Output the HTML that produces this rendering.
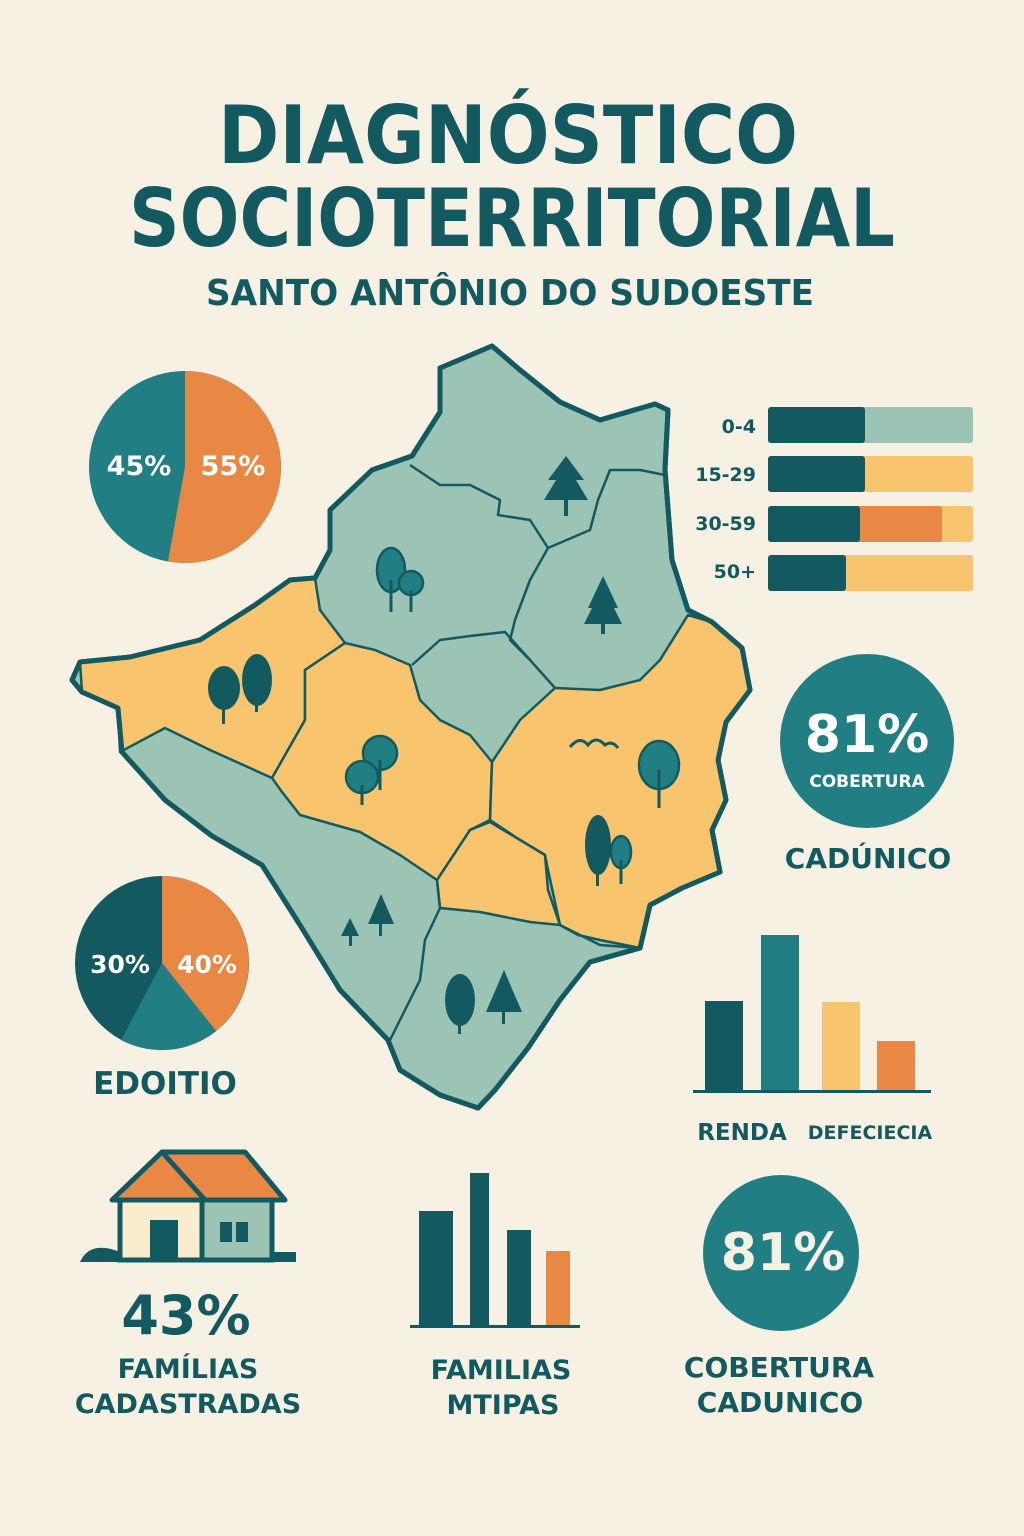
<!DOCTYPE html>
<html><head><meta charset="utf-8"><style>
html,body{margin:0;padding:0;background:#f7f1e4}
svg{display:block}
text{font-family:"DejaVu Sans","Liberation Sans",sans-serif;font-weight:bold}
</style></head><body>
<svg width="1024" height="1536" viewBox="0 0 1024 1536" xmlns="http://www.w3.org/2000/svg">
<rect width="1024" height="1536" fill="#f7f1e4"/>
<text x="508" y="163" text-anchor="middle" font-size="80" fill="#135a60" textLength="580" lengthAdjust="spacingAndGlyphs">DIAGNÓSTICO</text>
<text x="512" y="246" text-anchor="middle" font-size="80" fill="#135a60" textLength="766" lengthAdjust="spacingAndGlyphs">SOCIOTERRITORIAL</text>
<text x="510" y="305" text-anchor="middle" font-size="36" fill="#135a60" textLength="608" lengthAdjust="spacingAndGlyphs">SANTO ANTÔNIO DO SUDOESTE</text>

<!-- map -->
<g stroke="#135a60" stroke-linejoin="round">
<path d="M440,368 L492,346 L520,370 L560,402 L600,420 L655,404 L668,410 L665,470 L672,560 L688,610 L712,622 L742,648 L750,690 L726,722 L718,760 L726,800 L712,830 L720,872 L682,888 L650,905 L640,948 L590,962 L560,1000 L528,1048 L495,1090 L478,1108 L440,1095 L400,1070 L388,1040 L340,990 L300,925 L262,865 L212,836 L165,800 L122,752 L118,708 L82,692 L72,680 L80,662 L130,657 L200,640 L255,605 L290,580 L315,578 L330,550 L330,510 L372,470 L412,456 L440,412 Z" fill="#9bc4b4" stroke-width="5"/>
<g fill="#f9c46e" stroke-width="2.5">
<path d="M82,692 L80,662 L130,657 L200,640 L255,605 L290,580 L315,578 L320,610 L345,643 L305,670 L305,720 L272,778 L250,768 L210,750 L165,728 L120,752 L118,708 Z"/>
<path d="M345,643 L375,650 L410,665 L420,700 L440,720 L470,735 L492,762 L490,820 L470,830 L445,870 L437,880 L400,855 L360,832 L300,815 L282,792 L272,778 L305,720 L305,670 Z"/>
<path d="M492,762 L520,720 L555,688 L600,690 L640,680 L660,660 L688,615 L712,622 L742,648 L750,690 L726,722 L718,760 L726,800 L712,830 L720,872 L682,888 L650,905 L640,948 L600,940 L578,935 L560,925 L548,870 L545,855 L520,840 L490,820 Z"/>
<path d="M490,822 L520,840 L545,855 L548,890 L560,925 L530,922 L480,912 L440,908 L437,880 L470,830 Z"/>
</g>
<g fill="none" stroke-width="2.5">
<path d="M410,465 L440,485 L470,485 L500,500 L498,515 L530,520 L548,548 L590,530 L598,500 L610,470 L640,470 L665,475"/>
<path d="M548,548 L530,580 L515,620 L510,640 L530,660 L555,688"/>
<path d="M412,665 L440,640 L470,636 L505,632 L530,660"/>
<path d="M437,880 L440,908 L425,940 L420,980 L400,1020 L390,1040"/>
<path d="M560,925 L580,935 L600,945 L640,948"/>
</g>
<path d="M440,368 L492,346 L520,370 L560,402 L600,420 L655,404 L668,410 L665,470 L672,560 L688,610 L712,622 L742,648 L750,690 L726,722 L718,760 L726,800 L712,830 L720,872 L682,888 L650,905 L640,948 L590,962 L560,1000 L528,1048 L495,1090 L478,1108 L440,1095 L400,1070 L388,1040 L340,990 L300,925 L262,865 L212,836 L165,800 L122,752 L118,708 L82,692 L72,680 L80,662 L130,657 L200,640 L255,605 L290,580 L315,578 L330,550 L330,510 L372,470 L412,456 L440,412 Z" fill="none" stroke-width="5"/>
</g>
<!-- trees -->
<g fill="#135a60">
<polygon points="566,456 548,480 556,480 544,500 588,500 576,480 584,480"/><rect x="564" y="498" width="4" height="18"/>
<polygon points="603,576 588,608 592,608 584,624 622,624 614,608 618,608"/><rect x="601" y="620" width="4" height="14"/>
<ellipse cx="224" cy="688" rx="16" ry="22"/><rect x="222" y="700" width="3" height="24"/>
<ellipse cx="257" cy="680" rx="15" ry="26"/><rect x="255" y="700" width="3" height="12"/>
<polygon points="381,894 368,924 394,924"/><rect x="379" y="920" width="3" height="16"/>
<polygon points="350,918 341,936 359,936"/><rect x="349" y="934" width="3" height="12"/>
<ellipse cx="460" cy="1000" rx="15" ry="26"/><rect x="458" y="1010" width="3" height="24"/>
<polygon points="504,970 486,1012 522,1012"/><rect x="502" y="1010" width="3" height="14"/>
<ellipse cx="598" cy="845" rx="13" ry="30"/><rect x="596" y="860" width="3" height="26"/>
</g>
<g fill="#217f83" stroke="#135a60" stroke-width="2.5">
<ellipse cx="391" cy="570" rx="14" ry="22"/><circle cx="411" cy="583" r="12"/>
<circle cx="380" cy="753" r="17"/><circle cx="362" cy="777" r="16"/>
<ellipse cx="659" cy="765" rx="20" ry="24"/>
<ellipse cx="621" cy="852" rx="10" ry="16"/>
</g>
<g stroke="#135a60" stroke-width="3" fill="none"><path d="M391,580 V612 M411,590 V612 M380,760 V790 M362,785 V805 M659,770 V808 M621,860 V884"/>
<path d="M570,747 Q580,735 588,745 Q596,735 605,745 Q612,740 618,748"/></g>

<!-- pie 1 -->
<circle cx="185" cy="467" r="96" fill="#217f83"/>
<path d="M185,467 L185,371 A96,96 0 1 1 168,561.5 Z" fill="#e98845"/>
<text x="139" y="475" text-anchor="middle" font-size="27" fill="#fff">45%</text>
<text x="233" y="475" text-anchor="middle" font-size="27" fill="#fff">55%</text>

<!-- pie 2 -->
<circle cx="162" cy="963" r="87" fill="#135a60"/>
<path d="M162,963 L162,876 A87,87 0 0 1 216,1031 Z" fill="#e98845"/>
<path d="M162,963 L216,1031 A87,87 0 0 1 121,1040 Z" fill="#217f83"/>
<text x="120" y="973" text-anchor="middle" font-size="25" fill="#fff">30%</text>
<text x="207" y="973" text-anchor="middle" font-size="25" fill="#fff">40%</text>
<text x="165" y="1094" text-anchor="middle" font-size="31" fill="#135a60">EDOITIO</text>

<!-- age bars -->
<g font-size="19" fill="#135a60" text-anchor="end">
<text x="756" y="433">0-4</text><text x="756" y="481">15-29</text><text x="756" y="530">30-59</text><text x="756" y="578">50+</text></g>
<rect x="768" y="407" width="205" height="36" rx="3" fill="#9bc4b4"/><rect x="768" y="407" width="97" height="36" rx="3" fill="#135a60"/>
<rect x="768" y="456" width="205" height="36" rx="3" fill="#f9c46e"/><rect x="768" y="456" width="97" height="36" rx="3" fill="#135a60"/>
<rect x="768" y="506" width="205" height="36" rx="3" fill="#f9c46e"/><rect x="768" y="506" width="174" height="36" rx="3" fill="#e98845"/><rect x="768" y="506" width="92" height="36" rx="3" fill="#135a60"/>
<rect x="768" y="555" width="205" height="36" rx="3" fill="#f9c46e"/><rect x="768" y="555" width="78" height="36" rx="3" fill="#135a60"/>

<!-- circle 1 -->
<circle cx="867" cy="741" r="87" fill="#217f83"/>
<text x="867" y="752" text-anchor="middle" font-size="52" fill="#fff">81%</text>
<text x="867" y="787" text-anchor="middle" font-size="17" fill="#fff">COBERTURA</text>
<text x="868" y="868" text-anchor="middle" font-size="28" fill="#135a60">CADÚNICO</text>

<!-- bar chart right -->
<rect x="705" y="1001" width="38" height="91" fill="#135a60"/>
<rect x="761" y="935" width="38" height="157" fill="#217f83"/>
<rect x="822" y="1002" width="38" height="90" fill="#f9c46e"/>
<rect x="877" y="1041" width="38" height="51" fill="#e98845"/>
<rect x="693" y="1090" width="238" height="3" fill="#135a60"/>
<text x="742" y="1140" text-anchor="middle" font-size="23" fill="#135a60">RENDA</text>
<text x="870" y="1139" text-anchor="middle" font-size="19" fill="#135a60">DEFECIECIA</text>

<!-- house -->
<path d="M80,1262 Q90,1240 120,1252 L296,1252 L296,1262 Z" fill="#135a60"/>
<rect x="120" y="1196" width="82" height="64" fill="#faedcf" stroke="#135a60" stroke-width="5"/>
<rect x="202" y="1196" width="70" height="64" fill="#9bc4b4" stroke="#135a60" stroke-width="5"/>
<polygon points="112,1200 162,1152 245,1152 285,1200" fill="#e98845" stroke="#135a60" stroke-width="5" stroke-linejoin="round"/>
<path d="M162,1152 L205,1200" stroke="#135a60" stroke-width="5"/>
<rect x="150" y="1220" width="28" height="40" fill="#135a60"/>
<rect x="220" y="1222" width="12" height="20" fill="#135a60"/><rect x="236" y="1222" width="12" height="20" fill="#135a60"/>
<text x="186" y="1334" text-anchor="middle" font-size="54" fill="#135a60">43%</text>
<text x="188" y="1378" text-anchor="middle" font-size="27" fill="#135a60">FAMÍLIAS</text>
<text x="188" y="1413" text-anchor="middle" font-size="27" fill="#135a60">CADASTRADAS</text>

<!-- bar chart bottom -->
<rect x="419" y="1211" width="34" height="116" fill="#135a60"/>
<rect x="470" y="1173" width="19" height="154" fill="#135a60"/>
<rect x="507" y="1230" width="24" height="97" fill="#135a60"/>
<rect x="546" y="1251" width="24" height="76" fill="#e98845"/>
<rect x="410" y="1325" width="170" height="3" fill="#135a60"/>
<text x="501" y="1379" text-anchor="middle" font-size="27" fill="#135a60">FAMILIAS</text>
<text x="503" y="1414" text-anchor="middle" font-size="27" fill="#135a60">MTIPAS</text>

<!-- circle 2 -->
<circle cx="781" cy="1253" r="78" fill="#217f83"/>
<text x="783" y="1270" text-anchor="middle" font-size="52" fill="#f7f1e4">81%</text>
<text x="779" y="1377" text-anchor="middle" font-size="28" fill="#135a60">COBERTURA</text>
<text x="780" y="1412" text-anchor="middle" font-size="28" fill="#135a60">CADUNICO</text>
</svg>
</body></html>
